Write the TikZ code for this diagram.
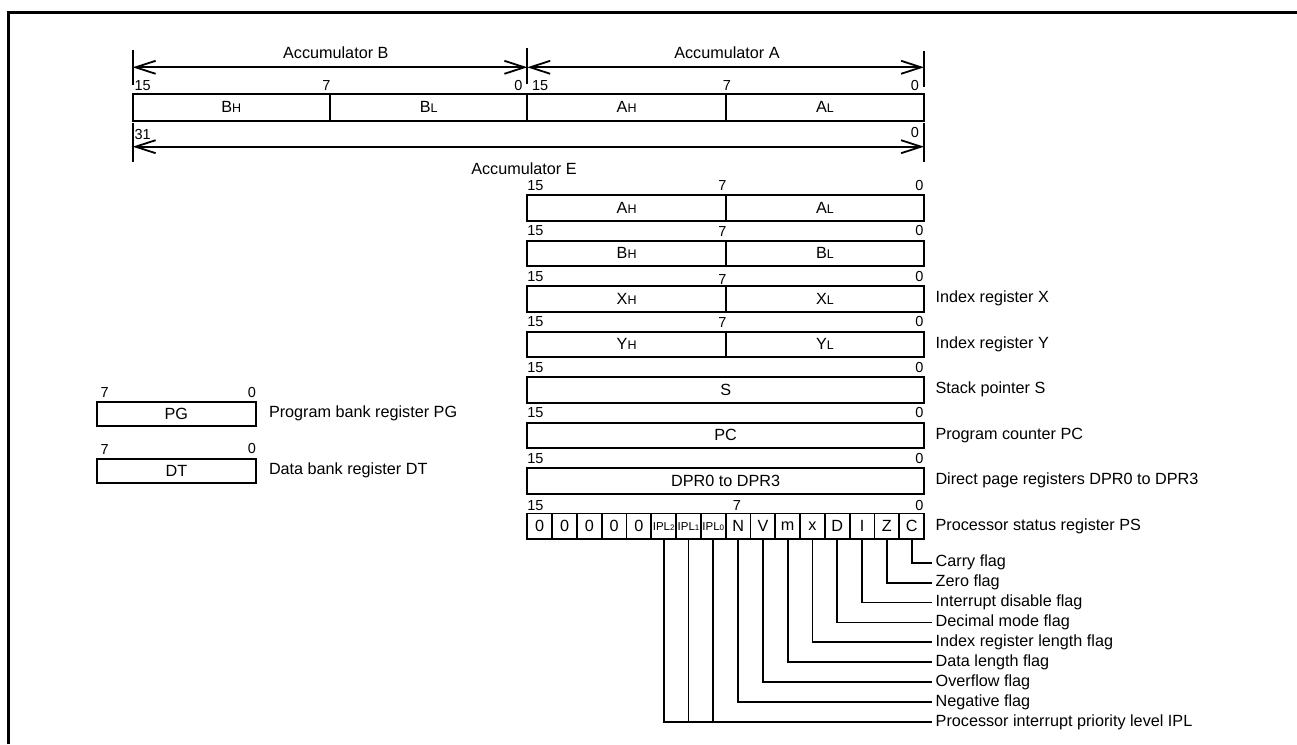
\documentclass[tikz,border=0pt]{standalone}
\usepackage{fontspec}
\setmainfont{Liberation Sans}
\usetikzlibrary{arrows.meta,positioning}

\newcommand{\txtfont}{\fontsize{16.2}{19}\selectfont}
\newcommand{\numfont}{\fontsize{14.5}{17}\selectfont}
\newcommand{\hilo}[2]{#1{\fontsize{12.5}{14}\selectfont #2}}
\newcommand{\ipl}[1]{{\fontsize{11.5}{13}\selectfont IPL\fontsize{8}{9}\selectfont #1}}

\tikzset{
  reg/.style={draw, line width=2pt, inner sep=0pt, outer sep=0pt, minimum height=25.5pt, font=\txtfont},
  bit/.style={inner sep=0pt, outer sep=0pt, font=\numfont},
  desc/.style={anchor=west, inner sep=0pt, outer sep=0pt, font=\txtfont},
  cell/.style={reg, minimum width=24.8pt, line width=1.8pt},
  wire/.style={line width=1.8pt},
  dim/.style={line width=1.8pt, {Straight Barb[length=20pt,width=13pt]}-{Straight Barb[length=20pt,width=13pt]}},
}

\begin{document}
\begin{tikzpicture}[x=1pt, y=-1pt]
\useasboundingbox (0,0) rectangle (1297,744);

% frame
\draw[line width=3pt] (8.7,744) |- (1297,12.5);

% Accumulators B, A and E
\node[reg, minimum width=197.3pt, minimum height=26.7pt] (accBhi) at (231.35,107.35) {\hilo{B}{H}};
\node[reg, minimum width=197.3pt, minimum height=26.7pt] (accBlo) at (428.65,107.35) {\hilo{B}{L}};
\node[reg, minimum width=198.7pt, minimum height=26.7pt] (accAhi) at (626.65,107.35) {\hilo{A}{H}};
\node[reg, minimum width=198pt, minimum height=26.7pt] (accAlo) at (825,107.35) {\hilo{A}{L}};

\node[bit, anchor=south west] (accB15) at (134.5,90.7) {15};
\node[bit, anchor=south] (accB7) at (326.5,90.7) {7};
\node[bit, anchor=south east] (accB0) at (522.5,90.7) {0};
\node[bit, anchor=south west] (accA15) at (532,90.7) {15};
\node[bit, anchor=south] (accA7) at (727,90.7) {7};
\node[bit, anchor=south east] (accA0) at (919,90.7) {0};
\node[bit, anchor=north west] (accE31) at (134.5,129.3) {31};
\node[bit, anchor=north east] (accE0) at (919,127.3) {0};

\draw[wire] (132.7,50) -- (132.7,85);
\draw[wire] (527.3,48) -- (527.3,84);
\draw[wire] (924,51) -- (924,87);
\draw[wire] (132.7,123) -- (132.7,162);
\draw[wire] (924,123) -- (924,162);

\coordinate (dimBl) at (132.7,67.3);
\coordinate (dimM) at (527.3,67.3);
\coordinate (dimAr) at (924,67.3);
\coordinate (dimEl) at (132.7,146.7);
\coordinate (dimEr) at (924,146.7);
\draw[dim] (dimBl) -- (dimM);
\draw[dim] (dimM) -- (dimAr);
\draw[dim] (dimEl) -- (dimEr);

\node[font=\txtfont, inner sep=0pt] (accB) at (335.8,52.5) {Accumulator B};
\node[font=\txtfont, inner sep=0pt] (accA) at (727,52.5) {Accumulator A};
\node[font=\txtfont, inner sep=0pt] (accE) at (524,168.3) {Accumulator E};

% 16-bit registers, high and low byte
\foreach \rg/\t/\dy in {A/195/0, B/240.5/0, X/286/3, Y/331.5/0} {
  \node[reg, minimum width=198.7pt] (\rg hi) at (626.65,\t+12.75) {\hilo{\rg}{H}};
  \node[reg, minimum width=198pt] (\rg lo) at (825,\t+12.75) {\hilo{\rg}{L}};
  \node[bit, anchor=south west] (\rg15) at (527.3,\t-4.5) {15};
  \node[bit, anchor=south] (\rg7) at (722.5,\t-4.5+\dy) {7};
  \node[bit, anchor=south east] (\rg0) at (923.5,\t-4.5) {0};
}
\node[desc, right=11.5pt of Xlo] (Xdesc) {Index register X};
\node[desc, right=11.5pt of Ylo] (Ydesc) {Index register Y};

% 16-bit registers
\foreach \nm/\t/\tx in {sp/377/S, pc/422.5/PC, dpr/468/DPR0 to DPR3} {
  \node[reg, minimum width=396.7pt] (\nm) at (725.65,\t+12.75) {\tx};
  \node[bit, anchor=south west] (\nm15) at (527.3,\t-4.5) {15};
  \node[bit, anchor=south east] (\nm0) at (923.5,\t-4.5) {0};
}
\node[desc, right=11.5pt of sp] (spdesc) {Stack pointer S};
\node[desc, right=11.5pt of pc] (pcdesc) {Program counter PC};
\node[desc, right=11.5pt of dpr] (dprdesc) {Direct page registers DPR0 to DPR3};

% PS
\foreach \t [count=\i from 0] in {0,0,0,0,0,\ipl{2},\ipl{1},\ipl{0},N,V,m,x,D,I,Z,C}
  \node[cell] (f\i) at (539.7+24.8*\i,526.25) {\t};
\node[bit, anchor=south west] (ps15) at (527.3,510.5) {15};
\node[bit, anchor=south] (ps7) at (737,510.5) {7};
\node[bit, anchor=south east] (ps0) at (923.5,510.5) {0};
\node[desc, right=11.5pt of f15] (psdesc) {Processor status register PS};

% flags
\foreach \i/\tx [count=\k from 0] in {15/Carry flag, 14/Zero flag, 13/Interrupt disable flag,
    12/Decimal mode flag, 11/Index register length flag, 10/Data length flag,
    9/Overflow flag, 8/Negative flag, 5/Processor interrupt priority level IPL} {
  \node[desc, inner xsep=4pt] (fl\i) at (931.7,562.7+19.9*\k) {\tx};
  \draw[wire] (f\i.south) |- (fl\i.west);
}
\foreach \i in {6,7}
  \draw[wire] (f\i.south) -- (f\i.south |- fl5.west);

% PG and DT
\node[reg, minimum width=159.3pt, minimum height=24pt] (pg) at (176.35,413.5) {PG};
\node[bit, anchor=south west] (pg7) at (100.5,397.2) {7};
\node[bit, anchor=south east] (pg0) at (256,397.2) {0};
\node[desc, right=13pt of pg] (pgdesc) {Program bank register PG};

\node[reg, minimum width=159.3pt, minimum height=24pt] (dt) at (176.35,470.5) {DT};
\node[bit, anchor=south west] (dt7) at (100.5,454) {7};
\node[bit, anchor=south east] (dt0) at (256,454) {0};
\node[desc, right=13pt of dt] (dtdesc) {Data bank register DT};

\end{tikzpicture}
\end{document}
